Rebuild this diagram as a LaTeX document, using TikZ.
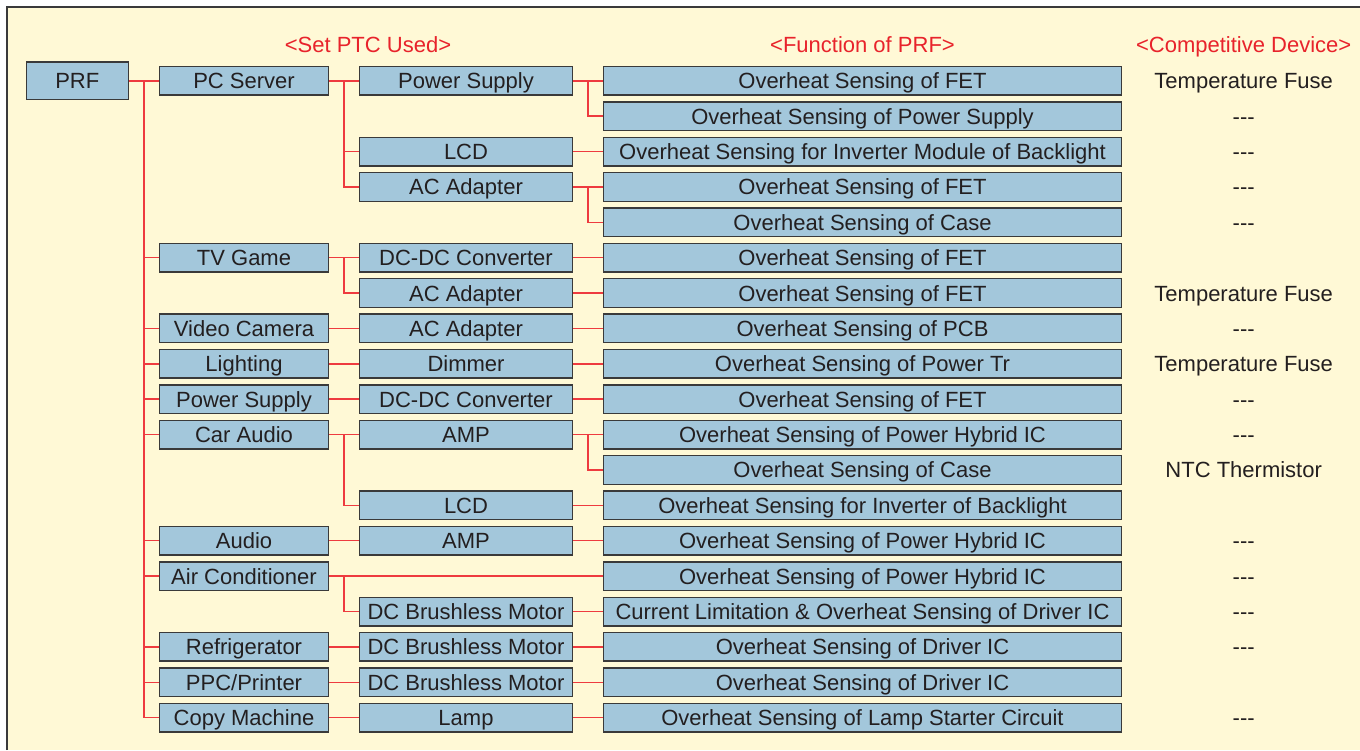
\documentclass[tikz,border=0pt]{standalone}
\usepackage{fontspec}
\setmainfont{Liberation Sans}
\usepackage{tikz}
\usetikzlibrary{positioning}
\definecolor{paper}{HTML}{FFF9D6}
\definecolor{boxblue}{HTML}{A3C7DB}
\definecolor{wirered}{HTML}{EE3B3F}
\definecolor{headred}{HTML}{E8232B}
\definecolor{ink}{HTML}{231F20}
\definecolor{rim}{HTML}{3A3A3A}
\newcommand{\chartfont}{\fontsize{22}{26}\selectfont}
\tikzstyle{cell} = [rectangle, minimum height = 28.6pt, inner sep = 0pt, text height = 16pt, text depth = 0pt, text centered, draw = rim, line width = 1.4pt, fill = boxblue, text = ink, font = \chartfont]
\tikzstyle{root} = [cell, minimum width = 102pt, minimum height = 37.6pt]
\tikzstyle{setbox} = [cell, minimum width = 168.6pt]
\tikzstyle{partbox} = [cell, minimum width = 212.6pt]
\tikzstyle{funcbox} = [cell, minimum width = 517.6pt]
\tikzstyle{rival} = [minimum width = 200pt, inner sep = 0pt, text height = 16pt, text depth = 0pt, text centered, text = ink, font = \chartfont]
\tikzstyle{head} = [inner sep = 0pt, text height = 16pt, text depth = 0pt, text = headred, font = \chartfont]
\tikzstyle{wire} = [draw = wirered, line width = 1.5pt]

\begin{document}
\begin{tikzpicture}[node distance = 35.38pt]

%BACKGROUND
\useasboundingbox (0,0) rectangle (1360pt,-750pt);
\fill [white] (0,0) rectangle (1360pt,-750pt);
\fill [paper] (7pt,-7pt) rectangle (1360pt,-750pt);
\draw [rim, line width = 1.3pt] (7pt,-750pt) -- (7pt,-7pt) -- (1360pt,-7pt);

%FUNCTIONS
\node (pcfet) [funcbox] at (862.5pt,-80.8pt) {Overheat Sensing of FET};
\node (pcpsu) [funcbox, below of = pcfet] {Overheat Sensing of Power Supply};
\node (pcinv) [funcbox, below of = pcpsu] {Overheat Sensing for Inverter Module of Backlight};
\node (pcadfet) [funcbox, below of = pcinv] {Overheat Sensing of FET};
\node (pccase) [funcbox, below of = pcadfet] {Overheat Sensing of Case};
\node (gamefet) [funcbox, below of = pccase] {Overheat Sensing of FET};
\node (gameadfet) [funcbox, below of = gamefet] {Overheat Sensing of FET};
\node (campcb) [funcbox, below of = gameadfet] {Overheat Sensing of PCB};
\node (lighttr) [funcbox, below of = campcb] {Overheat Sensing of Power Tr};
\node (psfet) [funcbox, below of = lighttr] {Overheat Sensing of FET};
\node (carhic) [funcbox, below of = psfet] {Overheat Sensing of Power Hybrid IC};
\node (carcase) [funcbox, below of = carhic] {Overheat Sensing of Case};
\node (carinv) [funcbox, below of = carcase] {Overheat Sensing for Inverter of Backlight};
\node (audiohic) [funcbox, below of = carinv] {Overheat Sensing of Power Hybrid IC};
\node (airhic) [funcbox, below of = audiohic] {Overheat Sensing of Power Hybrid IC};
\node (airdrv) [funcbox, below of = airhic] {Current Limitation \& Overheat Sensing of Driver IC};
\node (fridgedrv) [funcbox, below of = airdrv] {Overheat Sensing of Driver IC};
\node (printdrv) [funcbox, below of = fridgedrv] {Overheat Sensing of Driver IC};
\node (lampcirc) [funcbox, below of = printdrv] {Overheat Sensing of Lamp Starter Circuit};

%PARTS
\node (pcpower) [partbox, left = 30pt of pcfet] {Power Supply};
\node (pclcd) [partbox, left = 30pt of pcinv] {LCD};
\node (pcadapter) [partbox, left = 30pt of pcadfet] {AC Adapter};
\node (gamedcdc) [partbox, left = 30pt of gamefet] {DC-DC Converter};
\node (gameadapter) [partbox, left = 30pt of gameadfet] {AC Adapter};
\node (camadapter) [partbox, left = 30pt of campcb] {AC Adapter};
\node (dimmer) [partbox, left = 30pt of lighttr] {Dimmer};
\node (psdcdc) [partbox, left = 30pt of psfet] {DC-DC Converter};
\node (caramp) [partbox, left = 30pt of carhic] {AMP};
\node (carlcd) [partbox, left = 30pt of carinv] {LCD};
\node (audioamp) [partbox, left = 30pt of audiohic] {AMP};
\node (airmotor) [partbox, left = 30pt of airdrv] {DC Brushless Motor};
\node (fridgemotor) [partbox, left = 30pt of fridgedrv] {DC Brushless Motor};
\node (printmotor) [partbox, left = 30pt of printdrv] {DC Brushless Motor};
\node (lamp) [partbox, left = 30pt of lampcirc] {Lamp};

%SETS
\node (pcserver) [setbox, left = 30pt of pcpower] {PC Server};
\node (tvgame) [setbox, left = 30pt of gamedcdc] {TV Game};
\node (videocam) [setbox, left = 30pt of camadapter] {Video Camera};
\node (lighting) [setbox, left = 30pt of dimmer] {Lighting};
\node (powersupply) [setbox, left = 30pt of psdcdc] {Power Supply};
\node (caraudio) [setbox, left = 30pt of caramp] {Car Audio};
\node (audio) [setbox, left = 30pt of audioamp] {Audio};
\node (aircon) [setbox, left = 30pt of airmotor, yshift = 35.38pt] {Air Conditioner};
\node (fridge) [setbox, left = 30pt of fridgemotor] {Refrigerator};
\node (printer) [setbox, left = 30pt of printmotor] {PPC/Printer};
\node (copier) [setbox, left = 30pt of lamp] {Copy Machine};
\node (prf) [root, left = 30pt of pcserver] {PRF};

%COMPETITORS
\node (pcfetrival) [rival, right = 21.5pt of pcfet] {Temperature Fuse};
\node (pcpsurival) [rival, right = 21.5pt of pcpsu] {-{}-{}-};
\node (pcinvrival) [rival, right = 21.5pt of pcinv] {-{}-{}-};
\node (pcadfetrival) [rival, right = 21.5pt of pcadfet] {-{}-{}-};
\node (pccaserival) [rival, right = 21.5pt of pccase] {-{}-{}-};
\node (gameadfetrival) [rival, right = 21.5pt of gameadfet] {Temperature Fuse};
\node (campcbrival) [rival, right = 21.5pt of campcb] {-{}-{}-};
\node (lighttrrival) [rival, right = 21.5pt of lighttr] {Temperature Fuse};
\node (psfetrival) [rival, right = 21.5pt of psfet] {-{}-{}-};
\node (carhicrival) [rival, right = 21.5pt of carhic] {-{}-{}-};
\node (carcaserival) [rival, right = 21.5pt of carcase] {NTC Thermistor};
\node (audiohicrival) [rival, right = 21.5pt of audiohic] {-{}-{}-};
\node (airhicrival) [rival, right = 21.5pt of airhic] {-{}-{}-};
\node (airdrvrival) [rival, right = 21.5pt of airdrv] {-{}-{}-};
\node (fridgedrvrival) [rival, right = 21.5pt of fridgedrv] {-{}-{}-};
\node (lampcircrival) [rival, right = 21.5pt of lampcirc] {-{}-{}-};

%HEADINGS
\node (sethead) [head, above of = pcpower, xshift = -98pt, yshift = 1pt] {<Set PTC Used>};
\node (funchead) [head, above of = pcfet, yshift = 1pt] {<Function of PRF>};
\node (rivalhead) [head, above of = pcfetrival, yshift = 1pt] {<Competitive Device>};

%LINES: PRF TO SETS
\coordinate (prftrunk) at ([xshift = 15pt]prf.east);
\draw [wire] (prf) -- (pcserver);
\draw [wire] (prftrunk) |- (copier);
\draw [wire] (prftrunk |- tvgame) -- (tvgame);
\draw [wire] (prftrunk |- videocam) -- (videocam);
\draw [wire] (prftrunk |- lighting) -- (lighting);
\draw [wire] (prftrunk |- powersupply) -- (powersupply);
\draw [wire] (prftrunk |- caraudio) -- (caraudio);
\draw [wire] (prftrunk |- audio) -- (audio);
\draw [wire] (prftrunk |- aircon) -- (aircon);
\draw [wire] (prftrunk |- fridge) -- (fridge);
\draw [wire] (prftrunk |- printer) -- (printer);

%LINES: SETS TO PARTS
\coordinate (pctrunk) at ([xshift = 15pt]pcserver.east);
\draw [wire] (pcserver) -- (pcpower);
\draw [wire] (pctrunk) |- (pcadapter);
\draw [wire] (pctrunk |- pclcd) -- (pclcd);
\draw [wire] (tvgame) -- (gamedcdc);
\draw [wire] ([xshift = 15pt]tvgame.east) |- (gameadapter);
\draw [wire] (videocam) -- (camadapter);
\draw [wire] (lighting) -- (dimmer);
\draw [wire] (powersupply) -- (psdcdc);
\draw [wire] (caraudio) -- (caramp);
\draw [wire] ([xshift = 15pt]caraudio.east) |- (carlcd);
\draw [wire] (audio) -- (audioamp);
\draw [wire] (aircon) -- (airhic);
\draw [wire] ([xshift = 15pt]aircon.east) |- (airmotor);
\draw [wire] (fridge) -- (fridgemotor);
\draw [wire] (printer) -- (printmotor);
\draw [wire] (copier) -- (lamp);

%LINES: PARTS TO FUNCTIONS
\draw [wire] (pcpower) -- (pcfet);
\draw [wire] ([xshift = 15pt]pcpower.east) |- (pcpsu);
\draw [wire] (pclcd) -- (pcinv);
\draw [wire] (pcadapter) -- (pcadfet);
\draw [wire] ([xshift = 15pt]pcadapter.east) |- (pccase);
\draw [wire] (gamedcdc) -- (gamefet);
\draw [wire] (gameadapter) -- (gameadfet);
\draw [wire] (camadapter) -- (campcb);
\draw [wire] (dimmer) -- (lighttr);
\draw [wire] (psdcdc) -- (psfet);
\draw [wire] (caramp) -- (carhic);
\draw [wire] ([xshift = 15pt]caramp.east) |- (carcase);
\draw [wire] (carlcd) -- (carinv);
\draw [wire] (audioamp) -- (audiohic);
\draw [wire] (airmotor) -- (airdrv);
\draw [wire] (fridgemotor) -- (fridgedrv);
\draw [wire] (printmotor) -- (printdrv);
\draw [wire] (lamp) -- (lampcirc);

\end{tikzpicture}
\end{document}
